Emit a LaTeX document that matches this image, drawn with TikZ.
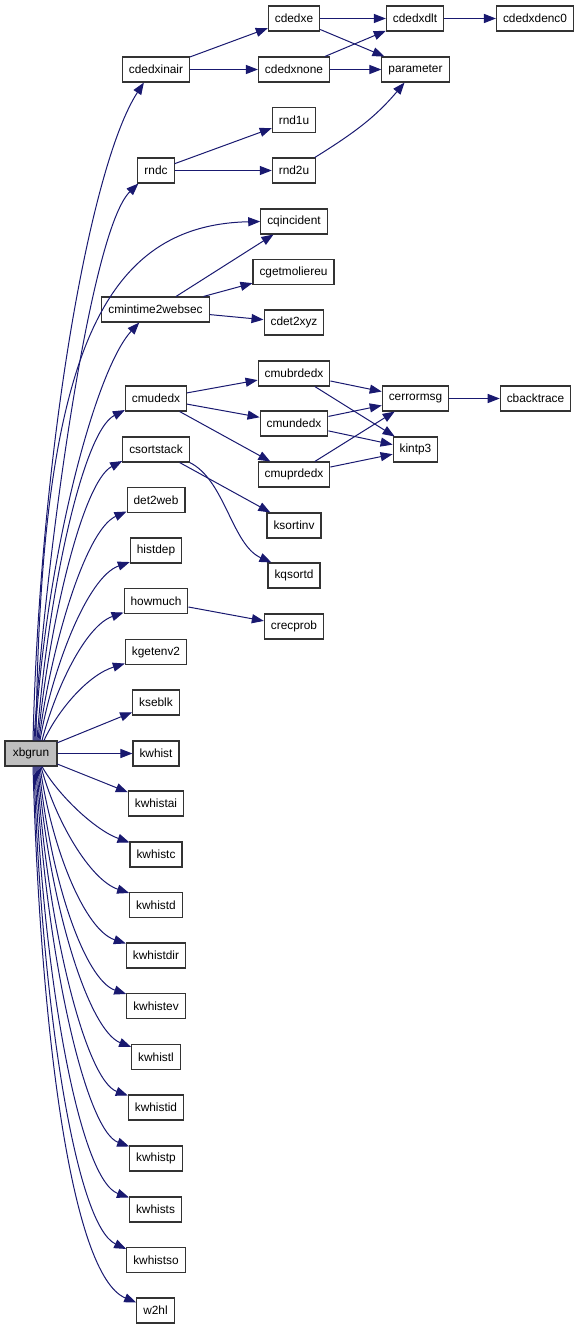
\documentclass[tikz,border=0pt]{standalone}
\usepackage{fontspec}
\setmainfont{Liberation Sans}
\usetikzlibrary{arrows.meta,calc}
\definecolor{edgeblue}{HTML}{191970}
\definecolor{boxline}{HTML}{333333}
\definecolor{rootfill}{HTML}{BFBFBF}
\tikzset{
  box/.style={draw=boxline, fill=white, line width=0.8pt, minimum height=18.75pt,
    inner xsep=4.9pt, inner ysep=0pt, font=\fontsize{8.9}{10.7}\selectfont, text=black},
  rootbox/.style={box, fill=rootfill},
  edge/.style={draw=edgeblue, line width=0.75pt, -{Triangle[length=9pt,width=6.8pt]}}
}
\begin{document}
\begin{tikzpicture}[x=0.75pt,y=0.75pt]
\useasboundingbox (0,0) rectangle (579,-1329);
% nodes
\node[box] (cdedxe) at (294,-18.5) {cdedxe};
\node[box] (cdedxdlt) at (415,-18.5) {cdedxdlt};
\node[box] (cdedxdenc0) at (535,-18.5) {cdedxdenc0};
\node[box] (cdedxinair) at (156,-69.5) {cdedxinair};
\node[box] (cdedxnone) at (294,-69.5) {cdedxnone};
\node[box] (parameter) at (415.5,-69.5) {parameter};
\node[box] (rnd1u) at (294,-120) {rnd1u};
\node[box] (rndc) at (156,-170.5) {rndc};
\node[box] (rnd2u) at (294,-170.5) {rnd2u};
\node[box] (cqincident) at (294,-221.5) {cqincident};
\node[box] (cgetmoliereu) at (293.5,-272) {cgetmoliereu};
\node[box] (cmintime2websec) at (155.5,-309.5) {cmintime2websec};
\node[box] (cdet2xyz) at (294,-322.5) {cdet2xyz};
\node[box] (cmubrdedx) at (294,-373.5) {cmubrdedx};
\node[box] (cmudedx) at (156,-398.5) {cmudedx};
\node[box] (cerrormsg) at (415.5,-398.5) {cerrormsg};
\node[box] (cbacktrace) at (535.5,-398.5) {cbacktrace};
\node[box] (cmundedx) at (294,-423.5) {cmundedx};
\node[box] (csortstack) at (156,-449.5) {csortstack};
\node[box] (kintp3) at (415.5,-449.5) {kintp3};
\node[box] (cmuprdedx) at (294,-474.5) {cmuprdedx};
\node[box] (det2web) at (156,-500) {det2web};
\node[box] (ksortinv) at (294,-525.5) {ksortinv};
\node[box] (histdep) at (156,-550.5) {histdep};
\node[box] (kqsortd) at (294,-575.5) {kqsortd};
\node[box] (howmuch) at (156,-601) {howmuch};
\node[box] (crecprob) at (294,-626.5) {crecprob};
\node[box] (kgetenv2) at (156,-652) {kgetenv2};
\node[box] (kseblk) at (156,-702.5) {kseblk};
\node[rootbox, minimum width=39pt] (xbgrun) at (31,-753.5) {xbgrun};
\node[box] (kwhist) at (156,-753.5) {kwhist};
\node[box] (kwhistai) at (156,-803.5) {kwhistai};
\node[box] (kwhistc) at (156,-854.5) {kwhistc};
\node[box] (kwhistd) at (156,-905) {kwhistd};
\node[box] (kwhistdir) at (156,-955.5) {kwhistdir};
\node[box] (kwhistev) at (156,-1006) {kwhistev};
\node[box] (kwhistl) at (156,-1057) {kwhistl};
\node[box] (kwhistid) at (156,-1107.5) {kwhistid};
\node[box] (kwhistp) at (156,-1158.5) {kwhistp};
\node[box] (kwhists) at (155.5,-1209.5) {kwhists};
\node[box] (kwhistso) at (156,-1260) {kwhistso};
\node[box] (w2hl) at (155.5,-1310.5) {w2hl};
% inner edges
\draw[edge] (cdedxinair) -- (cdedxe);
\draw[edge] (cdedxinair) -- (cdedxnone);
\draw[edge] (cdedxe) -- (cdedxdlt);
\draw[edge] (cdedxe) -- (parameter);
\draw[edge] (cdedxnone) -- (cdedxdlt);
\draw[edge] (cdedxnone) -- (parameter);
\draw[edge] (cdedxdlt) -- (cdedxdenc0);
\draw[edge] (rndc) -- (rnd1u);
\draw[edge] (rndc) -- (rnd2u);
\draw[edge] (rnd2u) to[out=32,in=-130] (parameter);
\draw[edge] (cmintime2websec) -- (cqincident);
\draw[edge] (cmintime2websec) -- (cgetmoliereu);
\draw[edge] (cmintime2websec) -- (cdet2xyz);
\draw[edge] (cmudedx) -- (cmubrdedx);
\draw[edge] (cmudedx) -- (cmundedx);
\draw[edge] (cmudedx) -- (cmuprdedx);
\draw[edge] (cmubrdedx) -- (cerrormsg);
\draw[edge] (cmubrdedx) -- (kintp3);
\draw[edge] (cmundedx) -- (cerrormsg);
\draw[edge] (cmundedx) -- (kintp3);
\draw[edge] (cmuprdedx) -- (cerrormsg);
\draw[edge] (cmuprdedx) -- (kintp3);
\draw[edge] (cerrormsg) -- (cbacktrace);
\draw[edge] (csortstack) -- (ksortinv);
\draw[edge] (csortstack.south east) .. controls (225,-480) and (232,-545) .. ($(kqsortd.north west)+(4,0)$);
\draw[edge] (howmuch) -- (crecprob);
% root edges, upward
\draw[edge] ($(xbgrun.north)+(2,0)$) .. controls (40,-451) and (90,-165) .. ($(cdedxinair.south west)+(22,0)$);
\draw[edge] ($(xbgrun.north)+(3,0)$) .. controls (45,-560) and (90,-230) .. ($(rndc.south west)+(1,0)$);
\draw[edge] ($(xbgrun.north)+(5,0)$) .. controls (40,-360) and (100,-225) .. (cqincident.west);
\draw[edge] ($(xbgrun.north)+(4,0)$) .. controls (45,-560) and (95,-370) .. ($(cmintime2websec.south west)+(38,0)$);
\draw[edge] ($(xbgrun.north)+(6,0)$) .. controls (47,-600) and (82,-432) .. ($(cmudedx.south west)+(0,1.5)$);
\draw[edge] ($(xbgrun.north)+(7,0)$) .. controls (48,-630) and (82,-482) .. ($(csortstack.south west)+(0,1.5)$);
\draw[edge] ($(xbgrun.north)+(8,0)$) .. controls (50,-650) and (85,-530) .. ($(det2web.south west)+(0,1.5)$);
\draw[edge] ($(xbgrun.north)+(9,0)$) .. controls (52,-670) and (87,-577) .. ($(histdep.south west)+(0,1.5)$);
\draw[edge] ($(xbgrun.north)+(11,0)$) .. controls (55,-690) and (85,-626) .. ($(howmuch.south west)+(0,1.5)$);
\draw[edge] ($(xbgrun.north)+(13,0)$) .. controls (58,-710) and (88,-675) .. ($(kgetenv2.south west)+(0,1.5)$);
\draw[edge] (xbgrun) -- (kseblk);
\draw[edge] (xbgrun) -- (kwhist);
\draw[edge] (xbgrun) -- (kwhistai);
% root edges, downward
\draw[edge] ($(xbgrun.south)+(11,0)$) .. controls (58,-795) and (95,-830) .. ($(kwhistc.north west)+(0,-1)$);
\draw[edge] ($(xbgrun.south)+(10,0)$) .. controls (55,-820) and (90,-880) .. ($(kwhistd.north west)+(0,-1)$);
\draw[edge] ($(xbgrun.south)+(9,0)$) .. controls (52,-850) and (85,-930) .. ($(kwhistdir.north west)+(0,-1)$);
\draw[edge] ($(xbgrun.south)+(8,0)$) .. controls (50,-880) and (85,-980) .. ($(kwhistev.north west)+(0,-1)$);
\draw[edge] ($(xbgrun.south)+(7,0)$) .. controls (48,-900) and (88,-1030) .. ($(kwhistl.north west)+(0,-3)$);
\draw[edge] ($(xbgrun.south)+(6,0)$) .. controls (46,-920) and (85,-1080) .. ($(kwhistid.north west)+(0,-1)$);
\draw[edge] ($(xbgrun.south)+(5,0)$) .. controls (45,-950) and (85,-1130) .. ($(kwhistp.north west)+(0,-1)$);
\draw[edge] ($(xbgrun.south)+(4,0)$) .. controls (43,-980) and (80,-1180) .. ($(kwhists.north west)+(0,-1)$);
\draw[edge] ($(xbgrun.south)+(3,0)$) .. controls (41,-1000) and (75,-1225) .. ($(kwhistso.north west)+(0,-2)$);
\draw[edge] ($(xbgrun.south)+(2,0)$) .. controls (40,-1020) and (70,-1275) .. ($(w2hl.north west)+(0,-5)$);
\end{tikzpicture}
\end{document}
